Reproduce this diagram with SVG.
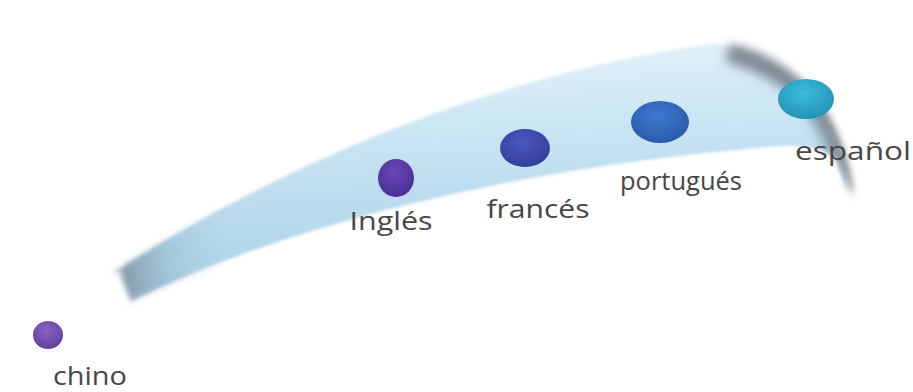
<svg xmlns="http://www.w3.org/2000/svg" width="913" height="392" viewBox="0 0 913 392">
<defs>
  <linearGradient id="band" x1="0" y1="0" x2="0.15" y2="1">
    <stop offset="0" stop-color="#eaf5fb"/>
    <stop offset="0.45" stop-color="#c6e3f2"/>
    <stop offset="1" stop-color="#a8d0e6"/>
  </linearGradient>
  <linearGradient id="leftfade" x1="105" y1="0" x2="240" y2="0" gradientUnits="userSpaceOnUse">
    <stop offset="0" stop-color="#ffffff" stop-opacity="1"/>
    <stop offset="0.15" stop-color="#7d8e99" stop-opacity="0.8"/>
    <stop offset="0.45" stop-color="#8fb0c4" stop-opacity="0.45"/>
    <stop offset="1" stop-color="#b5d8ea" stop-opacity="0"/>
  </linearGradient>
  <clipPath id="bandclip">
    <path d="M 100,274 C 300,140 520,60 712,40 C 790,40 845,110 855,200 L 836,158 C 822,148 802,145 782,146 C 600,160 340,200 128,305 Z"/>
  </clipPath>
  <filter id="blur" x="-30%" y="-30%" width="160%" height="160%">
    <feGaussianBlur stdDeviation="5"/>
  </filter>
  <filter id="soft" x="-10%" y="-10%" width="120%" height="120%">
    <feGaussianBlur stdDeviation="1.5"/>
  </filter>
  <filter id="blur2" x="-30%" y="-30%" width="160%" height="160%">
    <feGaussianBlur stdDeviation="3"/>
  </filter>
  <radialGradient id="g1" cx="0.45" cy="0.35" r="0.65">
    <stop offset="0" stop-color="#8a63c2"/>
    <stop offset="1" stop-color="#63409e"/>
  </radialGradient>
  <radialGradient id="g2" cx="0.45" cy="0.35" r="0.65">
    <stop offset="0" stop-color="#6a48b8"/>
    <stop offset="1" stop-color="#4a2f95"/>
  </radialGradient>
  <radialGradient id="g3" cx="0.45" cy="0.35" r="0.65">
    <stop offset="0" stop-color="#4c58bf"/>
    <stop offset="1" stop-color="#333d9a"/>
  </radialGradient>
  <radialGradient id="g4" cx="0.45" cy="0.35" r="0.65">
    <stop offset="0" stop-color="#3f7ad0"/>
    <stop offset="1" stop-color="#2a5aaa"/>
  </radialGradient>
  <radialGradient id="g5" cx="0.45" cy="0.35" r="0.65">
    <stop offset="0" stop-color="#3cbcdc"/>
    <stop offset="1" stop-color="#2393b6"/>
  </radialGradient>
  <style>
    .lbl { font-family: "Open Sans", "Liberation Sans", sans-serif; font-size: 25px; fill: #474747; }
  </style>
</defs>
<rect width="913" height="392" fill="#ffffff"/>
<g id="ribbon">
  <path d="M 112,274 C 300,150 520,70 712,44 C 780,45 835,110 848,195 L 836,158 C 822,148 802,145 782,146 C 600,160 340,200 128,302 Z" fill="url(#band)" filter="url(#soft)"/>
  <g filter="url(#blur2)">
    <g clip-path="url(#bandclip)">
      <path d="M 728,52 C 780,66 822,100 838,135 C 845,152 847,170 848,195" fill="none" stroke="#56616b" stroke-width="20" opacity="0.7" filter="url(#blur)"/>
      <path d="M 815,110 C 832,130 842,160 846,192" fill="none" stroke="#7c8893" stroke-width="22" opacity="0.55" filter="url(#blur)"/>
    </g>
  </g>
  <path d="M 112,274 C 160,242 200,220 240,198 L 240,258 C 190,276 155,290 128,302 Z" fill="url(#leftfade)" filter="url(#blur2)"/>
  <path d="M 60,285 L 118,270 L 132,305 L 70,320 Z" fill="#ffffff" filter="url(#blur2)"/>
</g>
<g id="chino">
  <ellipse cx="48" cy="335" rx="15" ry="14" fill="url(#g1)"/>
  <text class="lbl" x="90" y="385" text-anchor="middle" textLength="74" lengthAdjust="spacingAndGlyphs">chino</text>
</g>
<g id="ingles">
  <ellipse cx="396" cy="178" rx="18" ry="19" fill="url(#g2)"/>
  <text class="lbl" x="391" y="230" text-anchor="middle" textLength="83" lengthAdjust="spacingAndGlyphs">Inglés</text>
</g>
<g id="frances">
  <ellipse cx="525" cy="148" rx="25" ry="19" fill="url(#g3)"/>
  <text class="lbl" x="538" y="218" text-anchor="middle" textLength="103" lengthAdjust="spacingAndGlyphs">francés</text>
</g>
<g id="portugues">
  <ellipse cx="660" cy="122" rx="29" ry="21" fill="url(#g4)"/>
  <text class="lbl" x="681" y="190" text-anchor="middle" textLength="122" lengthAdjust="spacingAndGlyphs">portugués</text>
</g>
<g id="espanol">
  <ellipse cx="806" cy="99" rx="28" ry="20" fill="url(#g5)"/>
  <text class="lbl" x="853" y="160" text-anchor="middle" textLength="116" lengthAdjust="spacingAndGlyphs">español</text>
</g>
</svg>
